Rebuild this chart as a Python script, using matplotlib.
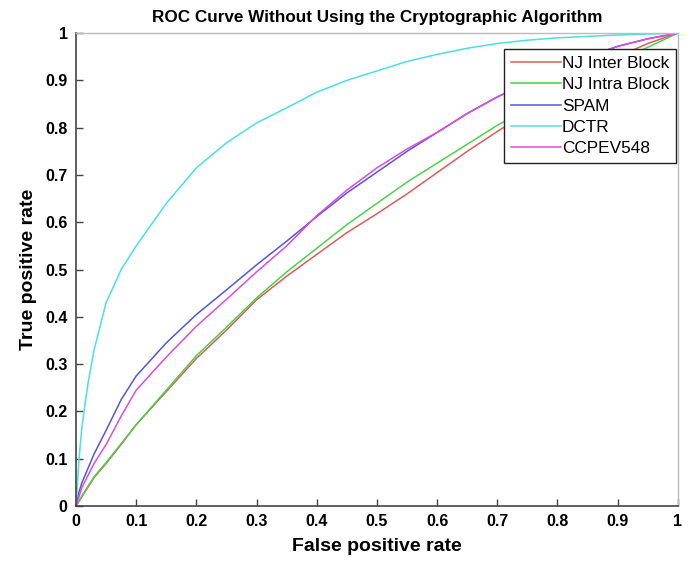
import numpy as np
import matplotlib.pyplot as plt

# ROC curves
fpr = [0, 0.005, 0.01, 0.02, 0.03, 0.05, 0.075, 0.1, 0.15, 0.2, 0.25, 0.3, 0.35,
       0.4, 0.45, 0.5, 0.55, 0.6, 0.65, 0.7, 0.75, 0.8, 0.85, 0.9, 0.95, 1.0]

tpr_nj_inter = [0, 0.01, 0.02, 0.04, 0.06, 0.09, 0.13, 0.172, 0.242, 0.312, 0.372, 0.436, 0.486,
                0.532, 0.578, 0.618, 0.66, 0.705, 0.75, 0.792, 0.832, 0.872, 0.912, 0.95, 0.978, 1.0]
tpr_nj_intra = [0, 0.012, 0.022, 0.042, 0.062, 0.092, 0.132, 0.172, 0.245, 0.318, 0.378, 0.44, 0.495,
                0.545, 0.595, 0.64, 0.685, 0.725, 0.765, 0.805, 0.84, 0.875, 0.908, 0.94, 0.97, 1.0]
tpr_spam = [0, 0.03, 0.05, 0.08, 0.11, 0.16, 0.225, 0.275, 0.345, 0.405, 0.457, 0.51, 0.56,
            0.612, 0.662, 0.706, 0.75, 0.79, 0.83, 0.865, 0.895, 0.925, 0.95, 0.972, 0.988, 1.0]
tpr_dctr = [0, 0.1, 0.17, 0.26, 0.33, 0.43, 0.5, 0.55, 0.64, 0.715, 0.768, 0.81, 0.842,
            0.875, 0.9, 0.92, 0.94, 0.955, 0.968, 0.978, 0.985, 0.99, 0.993, 0.996, 0.998, 1.0]
tpr_ccpev = [0, 0.02, 0.04, 0.065, 0.09, 0.13, 0.19, 0.245, 0.315, 0.38, 0.437, 0.495, 0.55,
             0.614, 0.668, 0.715, 0.755, 0.79, 0.83, 0.865, 0.895, 0.925, 0.95, 0.972, 0.988, 1.0]

labels = ['NJ Inter Block', 'NJ Intra Block', 'SPAM', 'DCTR', 'CCPEV548']
colors = ['#e05a5a', '#4cd24c', '#5555e0', '#4ae0e0', '#e04ae0']
series = [tpr_nj_inter, tpr_nj_intra, tpr_spam, tpr_dctr, tpr_ccpev]

plt.rcParams['font.family'] = ['Liberation Sans', 'DejaVu Sans']

fig = plt.figure(figsize=(6.91, 5.63), dpi=100)
ax = fig.add_axes([0.110, 0.1012, 0.871, 0.840])

for tpr, lab, col in zip(series, labels, colors):
    ax.plot(fpr, tpr, color=col, linewidth=1.1, label=lab)

ax.set_xlim(0, 1)
ax.set_ylim(0, 1)
ticks = np.round(np.arange(0, 1.01, 0.1), 1)
ticklabels = ['0' if t == 0 else ('1' if t == 1 else f'{t:.1f}') for t in ticks]
ax.set_xticks(ticks)
ax.set_xticklabels(ticklabels)
ax.set_yticks(ticks)
ax.set_yticklabels(ticklabels)
ax.tick_params(direction='in', length=5, width=1, color='#444444',
               labelsize=11.5, pad=6)
for lbl in ax.get_xticklabels() + ax.get_yticklabels():
    lbl.set_fontweight('bold')

for side in ['left', 'bottom']:
    ax.spines[side].set_color('#444444')
    ax.spines[side].set_linewidth(1.2)
for side in ['top', 'right']:
    ax.spines[side].set_color('#bbbbbb')
    ax.spines[side].set_linewidth(1.0)

ax.set_title('ROC Curve Without Using the Cryptographic Algorithm',
             fontsize=12.3, fontweight='bold', pad=8)
ax.set_xlabel('False positive rate', fontsize=14, fontweight='bold', labelpad=6)
ax.set_ylabel('True positive rate', fontsize=14, fontweight='bold', labelpad=6)

leg = ax.legend(loc='upper right', bbox_to_anchor=(0.997, 0.966), borderaxespad=0,
                fancybox=False, edgecolor='#222222', framealpha=1, fontsize=12.4,
                handlelength=2.9, handletextpad=0.05, labelspacing=0.36,
                borderpad=0.4)
leg.get_frame().set_linewidth(1.0)

fig.savefig('out.png', dpi=100)
